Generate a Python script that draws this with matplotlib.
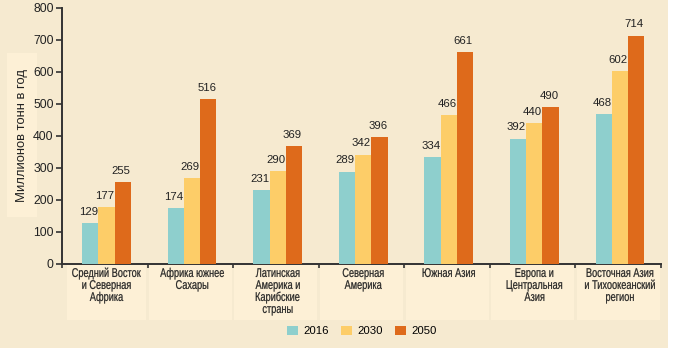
import numpy as np
import matplotlib
matplotlib.use("Agg")
import matplotlib.pyplot as plt
import matplotlib.transforms as mtransforms
from matplotlib.patches import Rectangle, PathPatch
from matplotlib.textpath import TextPath
from matplotlib.font_manager import FontProperties

# ------------------------------------------------------------------
# data
regions = ["Средний Восток\nи Северная\nАфрика",
           "Африка южнее\nСахары",
           "Латинская\nАмерика и\nКарибские\nстраны",
           "Северная\nАмерика",
           "Южная Азия",
           "Европа и\nЦентральная\nАзия",
           "Восточная Азия\nи Тихоокеанский\nрегион"]
years = ["2016", "2030", "2050"]
v2016 = [129, 174, 231, 289, 334, 392, 468]
v2030 = [177, 269, 290, 342, 466, 440, 602]
v2050 = [255, 516, 369, 396, 661, 490, 714]
yticks = [0, 100, 200, 300, 400, 500, 600, 700, 800]

colors = ["#8ecfcd", "#fdcd68", "#de6a1b"]
bg = "#f6ead0"
boxc = "#fdf0d6"
txtc = "#222222"
DPI = 100

plt.rcParams['font.family'] = ['Liberation Sans', 'DejaVu Sans']
fprop = FontProperties(family=['Liberation Sans', 'DejaVu Sans'])


#------------------------------------------------------------------
# condensed text: no narrow font installed, so squeeze glyph paths
def narrow_text(ax, xy, s, transform, size_px=12.6, sx=0.73, lsp=12.0):
    X, Y = transform.transform(xy)
    for j, line in enumerate(s.split("\n")):
        tp = TextPath((0, 0), line, size=size_px, prop=fprop)
        bb = tp.get_extents()
        tr = (mtransforms.Affine2D()
              .translate(-bb.x0 - bb.width / 2, -0.72 * size_px - j * lsp)
              .scale(sx, 1.0)
              .translate(X, Y))
        ax.add_artist(PathPatch(tp, transform=tr, facecolor=txtc,
                                edgecolor=txtc, lw=0.15, clip_on=False,
                                zorder=5))


fig = plt.figure(figsize=(6.76, 3.48), dpi=DPI)
fig.patch.set_facecolor("white")
# beige panel (right white strip in the original)
fig.patches.append(Rectangle((0, 0), 668/676, 1, transform=fig.transFigure,
                             facecolor=bg, edgecolor="none", zorder=-10))

ax = fig.add_axes([62/676, (348-264)/348, 599/676, 256/348])
ax.set_facecolor("none")

x = np.arange(len(regions))
w = 0.19
series = [v2016, v2030, v2050]
for k, vals in enumerate(series):
    pos = x + (k - 1) * w + 0.02
    ax.bar(pos, vals, w, color=colors[k], label=years[k], zorder=3)
    for xi, v in zip(pos, vals):
        ax.text(xi - 0.02, v + 19, str(v), ha="center", va="bottom",
                fontsize=8.2, color=txtc)

ax.set_xlim(-0.5, len(regions) - 0.5)
ax.set_ylim(0, 800)
ax.set_yticks(yticks)
ax.tick_params(axis="y", direction="out", length=4, width=1.2, labelsize=8.8,
               colors="#333333", labelcolor=txtc, pad=2)
ax.set_xticks(np.arange(len(regions) + 1) - 0.5)
ax.set_xticklabels([])
ax.tick_params(axis="x", direction="out", length=3, width=1.2, colors="#333333")
for s in ["top", "right"]:
    ax.spines[s].set_visible(False)
for s in ["left", "bottom"]:
    ax.spines[s].set_color("#333333")
    ax.spines[s].set_linewidth(1.4)

# category label boxes under the axis
trans = mtransforms.blended_transform_factory(ax.transData, ax.transAxes)
for i, name in enumerate(regions):
    x0 = i - 0.5 + (0.06 if i == 0 else 0.015)
    x1 = i + 0.5 - 0.015
    ax.add_patch(Rectangle((x0, -0.218), x1 - x0, 0.214, transform=trans,
                           facecolor=boxc, edgecolor="none", clip_on=False,
                           zorder=1))
    narrow_text(ax, (i + 0.02, -0.015), name, trans)

# y label with its light box
fig.patches.append(Rectangle((7/676, (348-217)/348), 30/676, 164/348,
                             transform=fig.transFigure, facecolor=boxc,
                             edgecolor="none", zorder=-5))
fig.text(22/676, (348-135)/348, "Миллионов тонн в год", rotation=90,
         ha="center", va="center", fontsize=9.4, color=txtc)

fig.legend(loc="center", bbox_to_anchor=(362/676, (348-331)/348), ncol=3,
           frameon=False, fontsize=8.2, handlelength=0.9, handleheight=0.9,
           handletextpad=0.5, columnspacing=1.1, borderaxespad=0)

plt.savefig("out.png", dpi=DPI, facecolor=fig.get_facecolor())
plt.close()
